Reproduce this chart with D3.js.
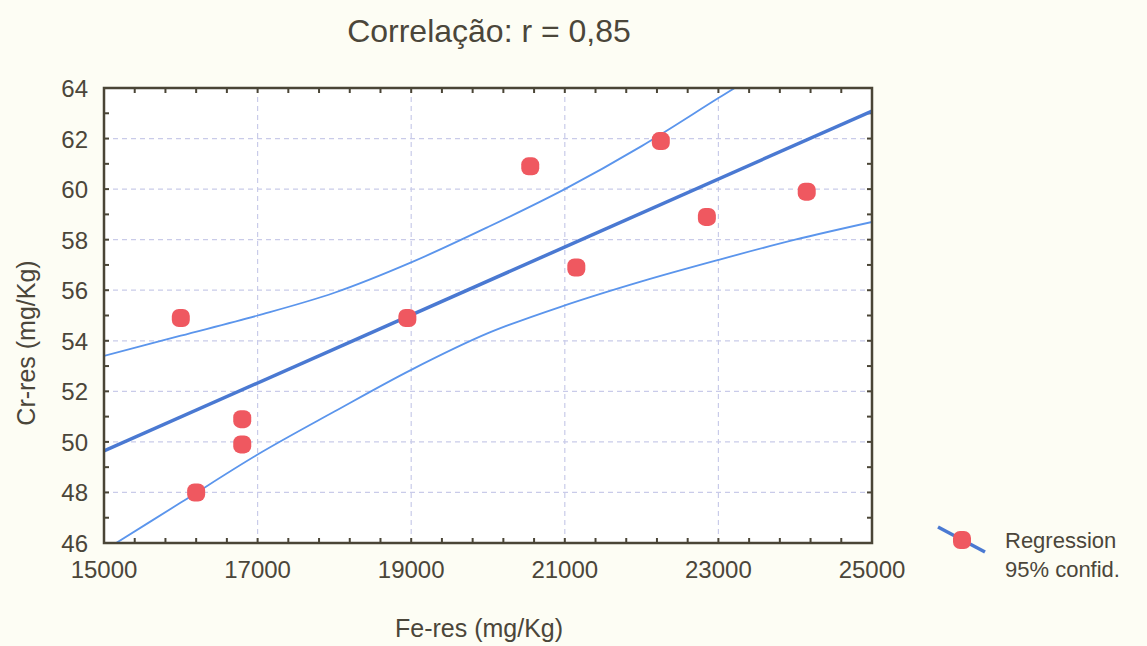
<!DOCTYPE html>
<html>
<head>
<meta charset="utf-8">
<script src="https://cdn.jsdelivr.net/npm/d3@7"></script>
<style>
  body { margin: 0; background: #fdfdf4; }
  svg { display: block; font-family: "Liberation Sans", Arial, sans-serif; }
</style>
</head>
<body>
<svg id="chart" width="1147" height="646"></svg>
<script>
// data points
const feRes = [16000, 16200, 16800, 16800, 18950, 20550, 21150, 22250, 22850, 24150];
const crRes = [54.9, 48.0, 50.9, 49.9, 54.9, 60.9, 56.9, 61.9, 58.9, 59.9];

// regression line end points
const regX = [15000, 25000];
const regY = [49.64, 63.09];

// 95% confidence band, read at each 1000
const bandX = [15000, 16000, 17000, 18000, 19000, 20000, 21000, 22000, 23000, 24000, 25000];
const upperY = [53.4, 54.2, 55.0, 55.9, 57.1, 58.5, 60.0, 61.7, 63.6, 65.5, 67.6];
const lowerY = [45.7, 47.6, 49.5, 51.2, 52.85, 54.3, 55.4, 56.35, 57.2, 58.0, 58.7];

const xTicks = [15000, 17000, 19000, 21000, 23000, 25000];
const yTicks = [46, 48, 50, 52, 54, 56, 58, 60, 62, 64];

const svg = d3.select("#chart");
const pLeft = 104, pRight = 872, pTop = 88, pBottom = 543;
const textCol = "#4b463a";
const frameCol = "#4a4536";

const x = d3.scaleLinear().domain([15000, 25000]).range([pLeft, pRight]);
const y = d3.scaleLinear().domain([46, 64]).range([pBottom, pTop]);

// plot background
svg.append("rect")
    .attr("x", pLeft).attr("y", pTop)
    .attr("width", pRight - pLeft).attr("height", pBottom - pTop)
    .attr("fill", "#ffffff");

svg.append("clipPath").attr("id", "plotclip")
    .append("rect")
    .attr("x", pLeft).attr("y", pTop)
    .attr("width", pRight - pLeft).attr("height", pBottom - pTop);

// grid
const grid = svg.append("g")
    .attr("stroke", "#c9cbe9")
    .attr("stroke-width", 1.2)
    .attr("stroke-dasharray", "5,4");
grid.selectAll(".gx").data(xTicks.slice(1, -1)).join("line")
    .attr("x1", d => x(d)).attr("x2", d => x(d))
    .attr("y1", pTop).attr("y2", pBottom);
grid.selectAll(".gy").data(yTicks.slice(1, -1)).join("line")
    .attr("x1", pLeft).attr("x2", pRight)
    .attr("y1", d => y(d)).attr("y2", d => y(d));

// inward ticks on all sides
const xMinor = d3.range(15000, 25001, 400);
const yMinor = d3.range(46, 64.01, 1);
const tickLen = 5;
const ticks = svg.append("g").attr("stroke", frameCol).attr("stroke-width", 2);
ticks.selectAll(".tb").data(xMinor).join("line")
    .attr("x1", d => x(d)).attr("x2", d => x(d))
    .attr("y1", pBottom).attr("y2", pBottom - tickLen);
ticks.selectAll(".tt").data(xMinor).join("line")
    .attr("x1", d => x(d)).attr("x2", d => x(d))
    .attr("y1", pTop).attr("y2", pTop + tickLen);
ticks.selectAll(".tl").data(yMinor).join("line")
    .attr("x1", pLeft).attr("x2", pLeft + tickLen)
    .attr("y1", d => y(d)).attr("y2", d => y(d));
ticks.selectAll(".tr").data(yMinor).join("line")
    .attr("x1", pRight).attr("x2", pRight - tickLen)
    .attr("y1", d => y(d)).attr("y2", d => y(d));

// confidence band and regression line
const plot = svg.append("g").attr("clip-path", "url(#plotclip)");
const bandLine = d3.line()
    .x(d => x(d[0])).y(d => y(d[1]))
    .curve(d3.curveCatmullRom);

[upperY, lowerY].forEach(vals => {
    plot.append("path")
        .datum(bandX.map((v, i) => [v, vals[i]]))
        .attr("d", bandLine)
        .attr("fill", "none")
        .attr("stroke", "#5b95ec")
        .attr("stroke-width", 1.8);
});

plot.append("path")
    .datum(regX.map((v, i) => [v, regY[i]]))
    .attr("d", d3.line().x(d => x(d[0])).y(d => y(d[1])))
    .attr("fill", "none")
    .attr("stroke", "#4a79d2")
    .attr("stroke-width", 3.5);

// points
svg.append("g").selectAll("rect")
    .data(feRes.map((v, i) => [v, crRes[i]]))
    .join("rect")
    .attr("x", d => x(d[0]) - 9).attr("y", d => y(d[1]) - 9)
    .attr("width", 18).attr("height", 18)
    .attr("rx", 7)
    .attr("fill", "#ef5860");

// frame
svg.append("rect")
    .attr("x", pLeft).attr("y", pTop)
    .attr("width", pRight - pLeft).attr("height", pBottom - pTop)
    .attr("fill", "none")
    .attr("stroke", frameCol)
    .attr("stroke-width", 2.5);

// tick labels
svg.append("g").selectAll("text").data(xTicks).join("text")
    .attr("x", d => x(d)).attr("y", 578)
    .attr("text-anchor", "middle")
    .attr("fill", textCol)
    .style("font-size", "24px")
    .text(d => d);
svg.append("g").selectAll("text").data(yTicks).join("text")
    .attr("x", 88).attr("y", d => y(d) + 9)
    .attr("text-anchor", "end")
    .attr("fill", textCol)
    .style("font-size", "24px")
    .text(d => d);

// title and axis labels
svg.append("text")
    .attr("x", 489).attr("y", 42)
    .attr("text-anchor", "middle")
    .attr("fill", textCol)
    .style("font-size", "32px")
    .text("Correlação: r = 0,85");
svg.append("text")
    .attr("x", 479).attr("y", 637)
    .attr("text-anchor", "middle")
    .attr("fill", textCol)
    .style("font-size", "25px")
    .text("Fe-res (mg/Kg)");
svg.append("text")
    .attr("transform", "translate(35,343) rotate(-90)")
    .attr("text-anchor", "middle")
    .attr("fill", textCol)
    .style("font-size", "25px")
    .text("Cr-res (mg/Kg)");

// legend
const lg = svg.append("g");
lg.append("line")
    .attr("x1", 938).attr("y1", 527).attr("x2", 985).attr("y2", 552)
    .attr("stroke", "#4a79d2").attr("stroke-width", 3.5);
lg.append("rect")
    .attr("x", 953).attr("y", 531).attr("width", 18).attr("height", 18)
    .attr("rx", 7).attr("fill", "#ef5860");
lg.append("text").attr("x", 1005).attr("y", 548)
    .attr("fill", textCol).style("font-size", "22px").text("Regression");
lg.append("text").attr("x", 1005).attr("y", 577)
    .attr("fill", textCol).style("font-size", "22px").text("95% confid.");
</script>
</body>
</html>
